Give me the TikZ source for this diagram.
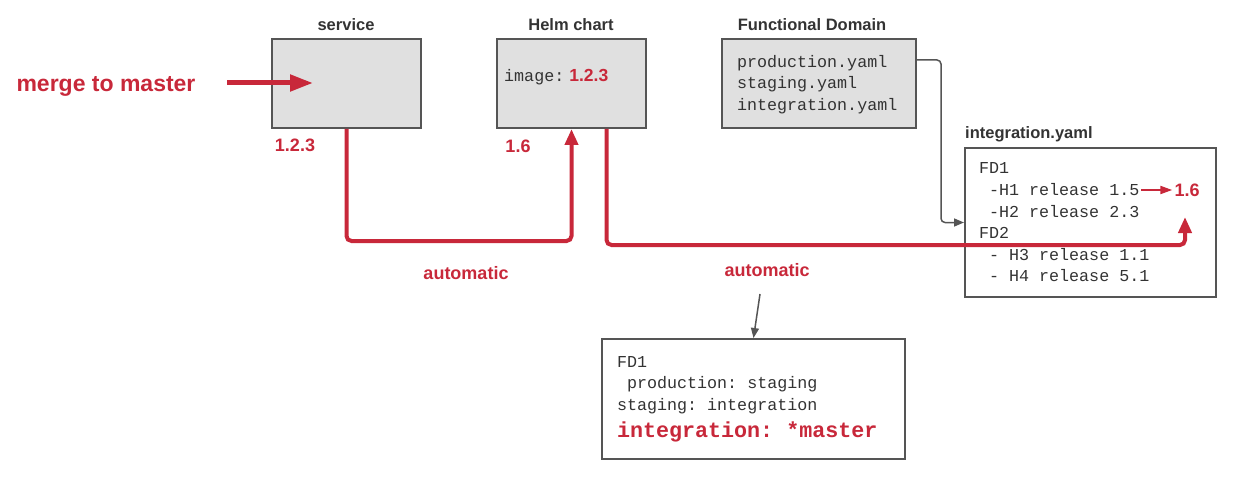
\documentclass[tikz,border=0pt]{standalone}
\usepackage{fontspec}
\setmainfont{Liberation Sans}
\setmonofont{Liberation Mono}[WordSpace={1,0,0}]
\usetikzlibrary{arrows.meta,calc}
\definecolor{relred}{HTML}{C8283A}
\definecolor{boxfill}{HTML}{E0E0E0}
\definecolor{boxline}{HTML}{555555}
\definecolor{ink}{HTML}{333333}
\tikzset{
  box/.style={draw=boxline, line width=2pt, minimum height=89pt, inner sep=0pt},
  title/.style={font=\fontsize{16.5}{20}\selectfont\bfseries, text=ink, anchor=base, inner sep=0pt},
  code/.style={font=\fontsize{16.7}{21.6}\selectfont\ttfamily, text=ink, align=left,
    execute at begin node={\spaceskip=0pt\xspaceskip=0pt\frenchspacing}},
  redlabel/.style={font=\fontsize{18}{22}\selectfont\bfseries, text=relred},
  redline/.style={draw=relred, line width=4pt, rounded corners=5pt, -{Triangle[length=16pt,width=13pt]}},
  greyline/.style={draw=boxline, line width=1.5pt, rounded corners=4pt, -{Triangle[length=10pt,width=8pt]}},
}
\begin{document}
\begin{tikzpicture}[x=1pt, y=-1pt]
    \useasboundingbox (0,0) rectangle (1236,481);

    % The three source boxes
    \node[box, fill=boxfill, minimum width=149pt] (svc) at (346.5,83.5) {};
    \node[box, fill=boxfill, minimum width=149pt] (helm) at (571.5,83.5) {};
    \node[box, fill=boxfill, code, text width=164pt, inner xsep=15pt] (fd) at (819,83.5)
        {\rule{0pt}{14pt}production.yaml\\staging.yaml\\integration.yaml};

    % Titles above the boxes
    \node[title] (svctitle) at (346,31) {service};
    \node[title] (helmtitle) at (571,31) {Helm chart};
    \node[title] (fdtitle) at (812,31) {Functional Domain};
    \node[title, anchor=base west] (integtitle) at (965,139) {integration.yaml};

    % Image tag inside the Helm chart
    \node[code, anchor=west, inner sep=0pt] (img) at (504,77)
        {image:\hspace{5pt}{\normalfont\fontsize{17.5}{20}\selectfont\bfseries\color{relred}1.2.3}};

    % The merge to master event
    \node[redlabel, font=\fontsize{23}{26}\selectfont\bfseries] (merge) at (106,86) {merge to master};
    \coordinate (mergetip) at (313,83);
    \draw[draw=relred, line width=5pt, -{Triangle[length=23pt,width=16pt]}]
        (merge.east |- mergetip) ++(28,0) -- (mergetip);

    % Version labels
    \node[redlabel] (svcver) at (295,145) {1.2.3};
    \node[redlabel] (helmver) at (518,146) {1.6};

    % The integration.yaml box
    \node[box, code, minimum height=149pt, text width=223pt, inner xsep=14pt] (integ) at (1090.5,222.5)
        {FD1\\
         \hspace*{0.6em}-H1 release 1.5\\
         \hspace*{0.6em}-H2 release 2.3\\
         FD2\\
         \hspace*{0.6em}- H3 release 1.1\\
         \hspace*{0.6em}- H4 release 5.1};
    \node[redlabel, inner sep=2pt] (newver) at (1187,190) {1.6};
    \coordinate (oldver) at (1141,190);
    \draw[draw=relred, line width=2pt, -{Triangle[length=12pt,width=8pt]}] (oldver) -- (newver.west);

    % The promotion box
    \node[box, code, minimum height=120pt, text width=273pt, inner xsep=15pt] (promo) at (753.5,399)
        {FD1\\
         \hspace*{0.6em}production: staging\\
         staging: integration\\[5pt]
         {\fontsize{21.7}{26}\selectfont\bfseries\color{relred}integration: *master}};

    % Automatic updates
    \draw[redline] (svc.south) -- ++(0,112) -| (helm.south);
    \node[redlabel] (auto1) at (466,273) {automatic};
    \coordinate (tip16) at (1185,217);
    \draw[redline] ([xshift=35pt]helm.south) -- ++(0,116) -| (tip16);
    \node[redlabel] (auto2) at (767,270) {automatic};

    % Grey links
    \draw[greyline] ($(fd.north east)+(0,22)$) -- ++(24,0) |- (integ.west);
    \coordinate (autotail) at (760,294);
    \draw[greyline] (autotail) -- (promo.north);
\end{tikzpicture}
\end{document}
